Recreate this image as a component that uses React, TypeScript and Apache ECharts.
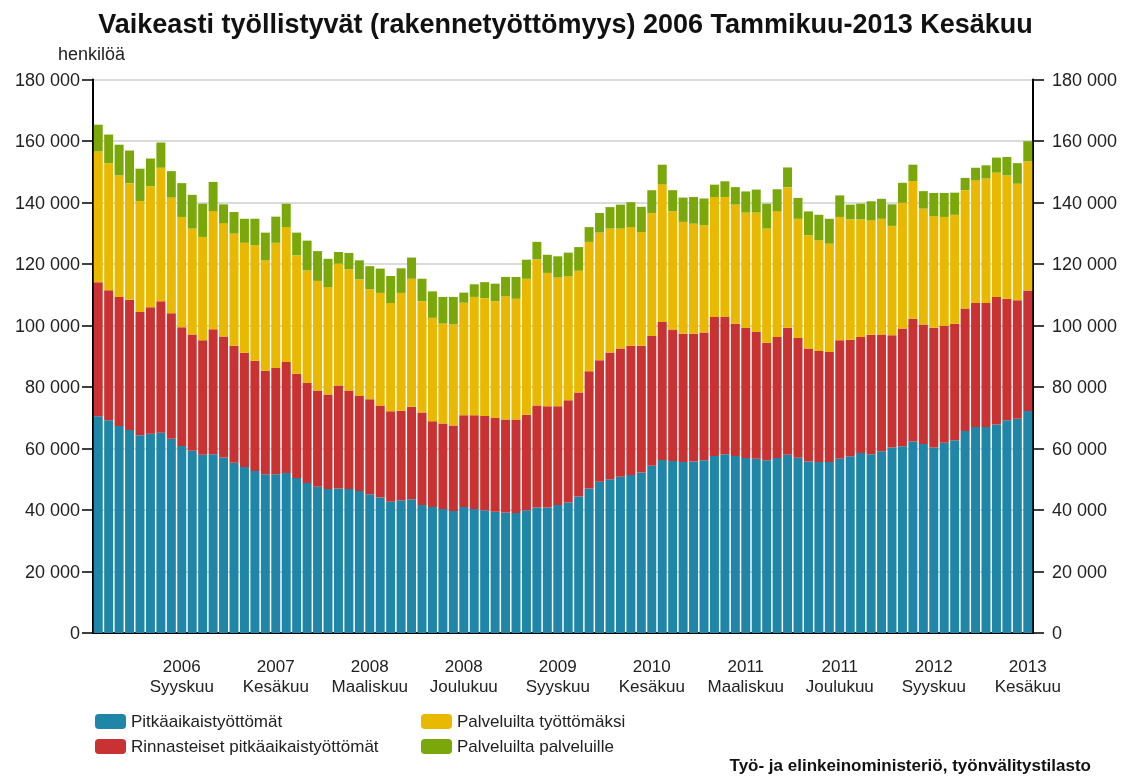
import React, { useEffect, useRef } from "react";
import * as echarts from "echarts";

const monthNames = ["Tammikuu", "Helmikuu", "Maaliskuu", "Huhtikuu", "Toukokuu", "Kesäkuu", "Heinäkuu", "Elokuu", "Syyskuu", "Lokakuu", "Marraskuu", "Joulukuu"];
const startYear = 2006;
const monthCount = 90; // 2006 Tammikuu - 2013 Kesäkuu

const seriesNames = ["Pitkäaikaistyöttömät", "Rinnasteiset pitkäaikaistyöttömät", "Palveluilta työttömäksi", "Palveluilta palveluille"];

const pitkaaikaistyottomat = [
  70500, 69200, 67300, 66000, 64300, 64800, 65100, 63200, 60800, 59300,
  58000, 58100, 57100, 55400, 54000, 52700, 51600, 51600, 52000, 50400,
  48800, 47600, 46800, 47000, 46800, 46200, 45100, 44100, 42700, 43200,
  43500, 41600, 41000, 40300, 39700, 41000, 40300, 39900, 39400, 39200,
  39000, 39900, 40800, 40800, 41600, 42400, 44400, 47000, 49200, 50000,
  50800, 51400, 52200, 54400, 56300, 55900, 55600, 55800, 56200, 57600,
  58100, 57600, 56900, 56700, 56200, 56900, 58000, 57000, 55800, 55600,
  55600, 56700, 57500, 58500, 58100, 59100, 60300, 60700, 62300, 61500,
  60300, 61900, 62700, 65700, 67000, 67000, 67800, 69200, 69700, 72200,
];

const rinnasteiset = [
  43600, 42300, 42000, 42400, 40100, 41100, 42800, 40800, 38600, 37800,
  37200, 40700, 39300, 38000, 37100, 35800, 33700, 34600, 36100, 33900,
  32500, 31300, 30800, 33500, 32100, 30900, 30900, 29900, 29400, 29100,
  30100, 30100, 27900, 27800, 27800, 29800, 30500, 30700, 30500, 30200,
  30400, 31100, 33200, 32900, 32100, 33300, 33800, 38100, 39500, 41200,
  41700, 42000, 41200, 42200, 44800, 42800, 41700, 41500, 41500, 45200,
  44700, 43000, 42300, 41200, 38200, 39400, 41300, 38900, 36700, 36100,
  35800, 38500, 37900, 37800, 38900, 38000, 36500, 38300, 39900, 38800,
  39000, 37900, 37900, 39800, 40300, 40300, 41500, 39500, 38500, 39200,
];

const palveluiltaTyottomaksi = [
  42500, 41300, 39500, 37900, 36100, 39400, 43400, 37600, 35900, 34400,
  33600, 38400, 36900, 36500, 35800, 37600, 35900, 40700, 43900, 38500,
  36600, 35600, 34900, 39600, 39400, 37900, 35800, 36600, 35200, 38300,
  41600, 36200, 33600, 32500, 32900, 36600, 38500, 38300, 38000, 40100,
  39300, 44200, 47500, 43400, 41900, 40300, 39600, 42100, 41500, 40300,
  39000, 38600, 37000, 40000, 44800, 38400, 36400, 35800, 34900, 39000,
  39000, 38700, 37500, 38800, 37100, 40900, 45700, 38800, 36800, 36000,
  35200, 40100, 39100, 38200, 37200, 37600, 35600, 40900, 44800, 37700,
  36300, 35500, 35400, 38500, 39900, 40500, 40400, 40100, 37900, 42000,
];

const palveluiltaPalveluille = [
  8700, 9300, 10000, 10600, 10500, 9000, 8200, 8600, 11000, 11000,
  10800, 9500, 6100, 7000, 7800, 8600, 9000, 8500, 7600, 7400,
  9700, 9700, 9200, 3800, 5300, 6200, 7500, 7900, 8800, 8000,
  6900, 7300, 8600, 8700, 8900, 3300, 4100, 5200, 5700, 6300,
  7100, 6200, 5700, 5900, 6900, 7700, 7700, 4800, 6400, 7000,
  7800, 8100, 8200, 7400, 6400, 6900, 7900, 8700, 8700, 4000,
  5100, 5700, 6900, 7500, 8100, 7100, 6400, 6800, 7800, 8300,
  8100, 7000, 4800, 5100, 6200, 6500, 7000, 6500, 5300, 5700,
  7500, 7800, 7200, 4000, 4100, 4300, 4900, 6000, 6700, 6500,
];

const colors = ["#2086a8", "#c83232", "#e9b800", "#7aa80a"];

const categories: string[] = [];
for (let i = 0; i < monthCount; i++) {
  const y = startYear + Math.floor(i / 12);
  categories.push(`${y}\n${monthNames[i % 12]}`);
}

const fontFamily = "'Liberation Sans', Arial, Helvetica, sans-serif";
const fmt = (v: number) => String(v).replace(/\B(?=(\d{3})+(?!\d))/g, " ");

export default function App() {
  const ref = useRef<HTMLDivElement>(null);
  useEffect(() => {
    if (!ref.current) return;
    const chart = echarts.init(ref.current, undefined, { renderer: "svg" });
    const yBase = {
      type: "value",
      min: 0,
      max: 180000,
      interval: 20000,
      axisLine: { show: true, lineStyle: { color: "#000", width: 2 } },
      axisTick: { show: true, length: 11, lineStyle: { color: "#000", width: 1.5 } },
      axisLabel: { fontSize: 18, color: "#222", fontFamily, formatter: fmt },
    };
    const data = [pitkaaikaistyottomat, rinnasteiset, palveluiltaTyottomaksi, palveluiltaPalveluille];
    chart.setOption({
      animation: false,
      textStyle: { fontFamily },
      title: {
        text: "Vaikeasti työllistyvät (rakennetyöttömyys) 2006 Tammikuu-2013 Kesäkuu",
        left: "center",
        top: 5,
        textStyle: { fontSize: 27, fontWeight: "bold", color: "#111", fontFamily },
      },
      grid: { left: 93, right: 98, top: 79.5, bottom: 147, containLabel: false },
      legend: [
        {
          data: [seriesNames[0], seriesNames[1]],
          orient: "vertical",
          left: 90,
          top: 708,
          itemWidth: 31,
          itemHeight: 15,
          itemGap: 8,
          icon: "roundRect",
          textStyle: { fontSize: 17, color: "#222", fontFamily },
        },
        {
          data: [seriesNames[2], seriesNames[3]],
          orient: "vertical",
          left: 416,
          top: 708,
          itemWidth: 31,
          itemHeight: 15,
          itemGap: 8,
          icon: "roundRect",
          textStyle: { fontSize: 17, color: "#222", fontFamily },
        },
      ],
      xAxis: {
        type: "category",
        data: categories,
        axisLine: { lineStyle: { color: "#000", width: 2 } },
        axisTick: { interval: 0, length: 11, lineStyle: { color: "#000", width: 1.5 } },
        axisLabel: {
          interval: (i: number) => i % 9 === 8,
          fontSize: 17,
          lineHeight: 20,
          margin: 23,
          color: "#222",
          fontFamily,
        },
      },
      yAxis: [
        {
          ...yBase,
          position: "left",
          axisLabel: { ...yBase.axisLabel, margin: 13 },
          splitLine: { show: true, lineStyle: { color: "#cfcfcf", width: 1.5 } },
        },
        {
          ...yBase,
          position: "right",
          axisLabel: { ...yBase.axisLabel, margin: 19 },
          splitLine: { show: false },
        },
      ],
      graphic: [
        {
          type: "text",
          left: 58,
          top: 45,
          style: { text: "henkilöä", fontSize: 18, fill: "#222", fontFamily },
        },
        {
          type: "text",
          right: 40,
          top: 757,
          style: { text: "Työ- ja elinkeinoministeriö, työnvälitystilasto", fontSize: 17, fontWeight: "bold", fill: "#111", fontFamily },
        },
      ],
      series: seriesNames.map((name, k) => ({
        name,
        type: "bar",
        stack: "total",
        barCategoryGap: "14%",
        itemStyle: { color: colors[k] },
        data: data[k],
      })),
    });
    return () => chart.dispose();
  }, []);
  return <div ref={ref} style={{ position: "fixed", left: 0, top: 0, width: 1131, height: 780 }} />;
}
